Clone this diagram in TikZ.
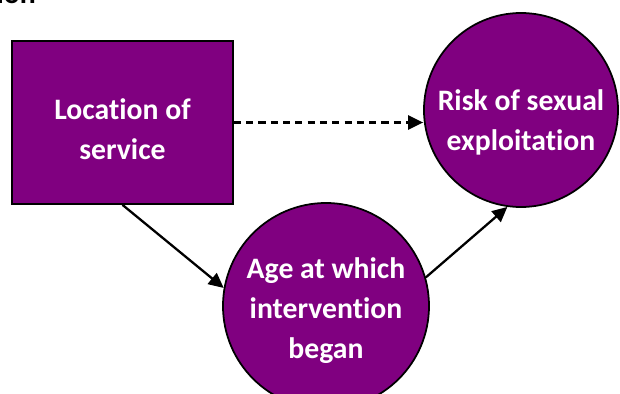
\documentclass[tikz,border=0pt]{standalone}
\usepackage{fontspec}
\setmainfont{Carlito}[Ligatures={NoCommon}]
\usetikzlibrary{arrows.meta}
\definecolor{plum}{HTML}{800080}
\tikzset{every picture/.style={>={Triangle[length=0.3cm,width=0.28cm]},line width=1.3pt}}
\tikzset{shapebox/.style={draw=black,line width=1pt,fill=plum},
  boxtext/.style={text=white,align=center,font=\bfseries\fontsize{16.9pt}{22.8pt}\selectfont}}

\begin{document}
\begin{tikzpicture}
      \useasboundingbox (0,0) rectangle (12.4,-7.88);
      \node[anchor=base east,font=\bfseries\fontsize{16.9pt}{22.8pt}\selectfont,inner sep=0pt] (cap) at (0.74,-0.07) {ion};
      \node[shapebox,rectangle,minimum width=4.42cm,minimum height=3.26cm,
        label={[boxtext,yshift=-0.14cm]center:Location of\\service}] (loc) at (2.45,-2.45) {};
      \node[shapebox,circle,minimum size=3.88cm,inner sep=0pt,
        label={[boxtext,yshift=-0.24cm]center:Risk of sexual\\exploitation}] (risk) at (10.42,-2.2) {};
      \node[shapebox,circle,minimum size=4.12cm,inner sep=0pt,
        label={[boxtext,yshift=-0.09cm]center:Age at which\\intervention\\began}] (age) at (6.52,-6.12) {};
      \draw[->,dash pattern=on 4pt off 3pt] (loc.east) -- (loc.east -| risk.west);
      \draw[->] (loc.south) -- (age.170);
      \draw[->] (age.16) -- (risk.262);
    \end{tikzpicture}
\end{document}
